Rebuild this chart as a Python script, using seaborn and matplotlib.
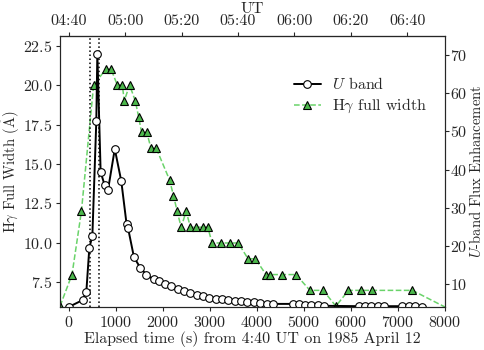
import numpy as np
import pandas as pd
import matplotlib
matplotlib.use("Agg")
from matplotlib import pyplot as plt
import seaborn as sns

# U-band flux enhancement (right axis)
u_time = [0, 297, 375, 439, 503, 587, 609, 679, 764, 835, 980, 1118, 1231, 1260,
          1387, 1520, 1649, 1804, 1931, 2058, 2186, 2320, 2455, 2589, 2724, 2858,
          2992, 3126, 3261, 3395, 3530, 3664, 3798, 3933, 4067, 4209, 4350, 4761,
          4895, 5029, 5164, 5298, 5432, 6175, 6302, 6437, 6571, 6706, 7095, 7229,
          7364, 7505]
u_flux = [4.0, 5.8, 8.0, 19.5, 22.6, 52.7, 70.4, 39.4, 35.9, 34.6, 45.4, 37.0, 25.7,
          24.8, 17.1, 14.3, 12.5, 11.2, 10.7, 10.1, 9.5, 8.8, 8.2, 7.7, 7.2, 6.8,
          6.4, 6.2, 6.0, 5.8, 5.6, 5.5, 5.4, 5.3, 5.1, 4.9, 4.8, 4.8, 4.7, 4.6,
          4.5, 4.4, 4.3, 4.2, 4.2, 4.2, 4.2, 4.2, 4.2, 4.2, 4.2, 4.1]

# H-gamma full width (left axis)
hg_time = [-185, 70, 270, 530, 790, 900, 1034, 1140, 1182, 1295, 1416, 1486, 1550,
           1663, 1748, 1861, 2144, 2229, 2307, 2392, 2498, 2590, 2703, 2851, 2958,
           3050, 3242, 3430, 3605, 3815, 3970, 4197, 4282, 4537, 4834, 5131, 5414,
           5683, 5951, 6214, 6461, 7310, 8100]
hg_width = [6.0, 8.0, 12.0, 20.0, 21.0, 21.0, 20.0, 20.0, 19.0, 20.0, 19.0, 18.0,
            17.0, 17.0, 16.0, 16.0, 14.0, 13.0, 12.0, 11.0, 12.0, 11.0, 11.0, 11.0,
            11.0, 10.0, 10.0, 10.0, 10.0, 9.0, 9.0, 8.0, 8.0, 8.0, 8.0, 7.0, 7.0,
            6.0, 7.0, 7.0, 7.0, 7.0, 5.8]

# flare event markers and top UT axis
event_times = [460, 635]
ut_ticks = [0, 1200, 2400, 3600, 4800, 6000, 7200]
ut_labels = ["04:40", "05:00", "05:20", "05:40", "06:00", "06:20", "06:40"]

sns.set_style("ticks")
plt.rcParams["font.family"] = ["cmr10", "DejaVu Serif"]
plt.rcParams["mathtext.fontset"] = "cm"
plt.rcParams["axes.formatter.use_mathtext"] = True
plt.rcParams["font.size"] = 11.5

df_u = pd.DataFrame({"t": u_time, "flux": u_flux})
df_h = pd.DataFrame({"t": hg_time, "width": hg_width})

fig, ax = plt.subplots(figsize=(4.84, 3.5), dpi=100)
fig.subplots_adjust(left=0.124, right=0.919, bottom=0.123, top=0.897)

sns.lineplot(data=df_h, x="t", y="width", ax=ax, color="#6ad36a", linestyle="--",
             lw=1.1, marker="^", markersize=5.5, markerfacecolor="#4cb84c",
             markeredgecolor="black", markeredgewidth=0.8, label="H$\\gamma$ full width")
for t in event_times:
    ax.axvline(t, color="black", linestyle=":", lw=1.1)

ax2 = ax.twinx()
sns.lineplot(data=df_u, x="t", y="flux", ax=ax2, color="black", lw=1.4,
             marker="o", markersize=5.5, markerfacecolor="white",
             markeredgecolor="black", markeredgewidth=0.8, label="$U$ band")

ax.set_xlim(-185, 8000)
ax.set_ylim(5.95, 23.1)
ax2.set_ylim(4.0, 75.0)
ax.set_xticks(np.arange(0, 8001, 1000))
ax.set_yticks([7.5, 10.0, 12.5, 15.0, 17.5, 20.0, 22.5])
ax2.set_yticks([10, 20, 30, 40, 50, 60, 70])

ax.set_xlabel("Elapsed time (s) from 4:40 UT on 1985 April 12", labelpad=1)
ax.set_ylabel("H$\\gamma$ Full Width ($\\mathring{\\mathrm{A}}$)", labelpad=0.5, fontsize=10.5)
ax2.set_ylabel("$U$-band Flux Enhancement", labelpad=0, fontsize=10.5)

top = ax.secondary_xaxis("top")
top.set_xticks(ut_ticks)
top.set_xticklabels(ut_labels)
top.set_xlabel("UT", labelpad=1)

for a in (ax, ax2, top):
    a.tick_params(direction="out", length=3, width=0.8, pad=2.5)
ax2.tick_params(pad=1)

# merge legends, U band first
h1, l1 = ax.get_legend_handles_labels()
h2, l2 = ax2.get_legend_handles_labels()
ax.get_legend().remove()
ax2.legend(h2 + h1, l2 + l1, loc="upper left", bbox_to_anchor=(0.57, 0.905),
           frameon=False, handlelength=1.7, handletextpad=0.7, labelspacing=0.3)

fig.savefig("out.png", dpi=100)
